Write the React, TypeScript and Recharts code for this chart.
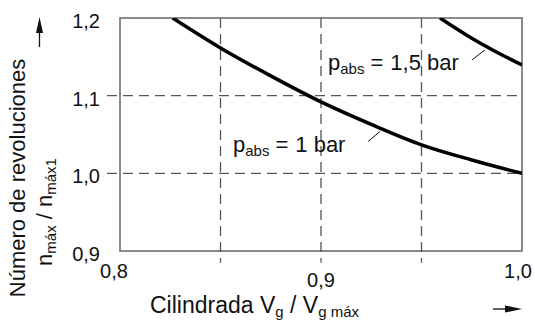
import React from "react";
import { LineChart, Line, XAxis, YAxis, ReferenceLine, ReferenceArea } from "recharts";

const xTicks = [0.8, 0.9, 1.0];
const yTicks = [0.9, 1.0, 1.1, 1.2];
const xGrid = [0.85, 0.9, 0.95];
const yGrid = [1.0, 1.1];

// p_abs = 1 bar
const curve1 = [
  { v: 0.8262, n: 1.2 },
  { v: 0.85, n: 1.1615 },
  { v: 0.875, n: 1.1255 },
  { v: 0.9, n: 1.092 },
  { v: 0.925, n: 1.063 },
  { v: 0.95, n: 1.0367 },
  { v: 0.975, n: 1.0172 },
  { v: 1.0, n: 1.0 },
];

// p_abs = 1,5 bar
const curve2 = [
  { v: 0.9592, n: 1.2 },
  { v: 0.975, n: 1.174 },
  { v: 0.9875, n: 1.156 },
  { v: 1.0, n: 1.1396 },
];

const W = 535;
const H = 324;
const FONT = "'Liberation Sans', Arial, Helvetica, sans-serif";
const GRID = "#555";
const PLOT_BOTTOM = 251;

const fmt = (v: number) => v.toFixed(1).replace(".", ",");

const renderXTick = (props: any) => {
  const { x, payload } = props;
  const v = payload.value;
  const dx = v === 0.8 ? -6 : v === 1.0 ? -4 : 0;
  const baseline = v === 0.9 ? 287 : 278;
  return (
    <text key={v} x={x + dx} y={baseline} textAnchor="middle" fontSize={20} fill="#111" fontFamily={FONT}>
      {fmt(v)}
    </text>
  );
};

const renderYTick = (props: any) => {
  const { y, payload } = props;
  return (
    <text key={payload.value} x={100} y={y + 10} textAnchor="end" fontSize={20} fill="#111" fontFamily={FONT}>
      {fmt(payload.value)}
    </text>
  );
};

export default function App() {
  return (
    <div style={{ position: "absolute", left: 0, top: 0, width: W, height: H, background: "#fff" }}>
      <LineChart width={W} height={H} margin={{ top: 18, right: 13, left: 0, bottom: 0 }}>
        <XAxis
          type="number"
          dataKey="v"
          domain={[0.8, 1.0]}
          ticks={xTicks}
          height={H - PLOT_BOTTOM}
          axisLine={false}
          tickLine={false}
          tick={renderXTick}
          interval={0}
          allowDataOverflow
        />
        <YAxis
          type="number"
          dataKey="n"
          domain={[0.9, 1.2]}
          ticks={yTicks}
          width={120}
          axisLine={false}
          tickLine={false}
          tick={renderYTick}
          interval={0}
          allowDataOverflow
        />
        {yGrid.map((g) => (
          <ReferenceLine
            key={"h" + g}
            segment={[{ x: 0.7935, y: g }, { x: 1.0, y: g }]}
            stroke={GRID}
            strokeWidth={1.3}
            strokeDasharray="10 6"
            ifOverflow="visible"
          />
        ))}
        {xGrid.map((g) => (
          <ReferenceLine
            key={"v" + g}
            segment={[{ x: g, y: 1.2 }, { x: g, y: 0.885 }]}
            stroke={GRID}
            strokeWidth={1.3}
            strokeDasharray="10 6"
            ifOverflow="visible"
          />
        ))}
        <ReferenceArea x1={0.8} x2={1.0} y1={0.9} y2={1.2} fill="none" stroke="#666" strokeWidth={1.5} ifOverflow="visible" />
        <ReferenceLine
          segment={[{ x: 0.9234, y: 1.041 }, { x: 0.9294, y: 1.054 }]}
          stroke="#111"
          strokeWidth={1}
          ifOverflow="visible"
        />
        <ReferenceLine
          segment={[{ x: 0.9751, y: 1.146 }, { x: 0.9816, y: 1.159 }]}
          stroke="#111"
          strokeWidth={1}
          ifOverflow="visible"
        />
        <Line data={curve1} dataKey="n" type="monotone" stroke="#000" strokeWidth={3.5} dot={false} isAnimationActive={false} />
        <Line data={curve2} dataKey="n" type="monotone" stroke="#000" strokeWidth={3.5} dot={false} isAnimationActive={false} />
      </LineChart>
      <svg width={W} height={H} style={{ position: "absolute", left: 0, top: 0, pointerEvents: "none" }} fontFamily={FONT} fill="#111">
        <text x={328} y={70} fontSize={22}>
          p<tspan fontSize={15} dy={4}>abs</tspan>
          <tspan dy={-4} dx={6}>=</tspan>
          <tspan dx={7}>1,5 bar</tspan>
        </text>
        <text x={233} y={152} fontSize={22}>
          p<tspan fontSize={15} dy={4}>abs</tspan>
          <tspan dy={-4} dx={6}>=</tspan>
          <tspan dx={7}>1 bar</tspan>
        </text>
        <text x={150} y={313} fontSize={23}>
          Cilindrada V<tspan fontSize={15} dy={4}>g</tspan>
          <tspan dy={-4}> / V</tspan>
          <tspan fontSize={15} dy={4}>g máx</tspan>
        </text>
        <g transform="translate(25,178) rotate(-90)">
          <text x={0} y={0} fontSize={22} textAnchor="middle">Número de revoluciones</text>
        </g>
        <g transform="translate(52,212) rotate(-90)">
          <text x={0} y={0} fontSize={22} textAnchor="middle">
            n<tspan fontSize={15} dy={4}>máx</tspan>
            <tspan dy={-4}> / n</tspan>
            <tspan fontSize={15} dy={4}>máx1</tspan>
          </text>
        </g>
        <line x1={39.5} y1={47} x2={39.5} y2={30} stroke="#111" strokeWidth={1.3} />
        <polygon points="39.5,17 36,33 43,33" fill="#111" />
        <line x1={493} y1={309} x2={508} y2={309} stroke="#111" strokeWidth={1.3} />
        <polygon points="522,309 505,305.5 505,312.5" fill="#111" />
      </svg>
    </div>
  );
}
